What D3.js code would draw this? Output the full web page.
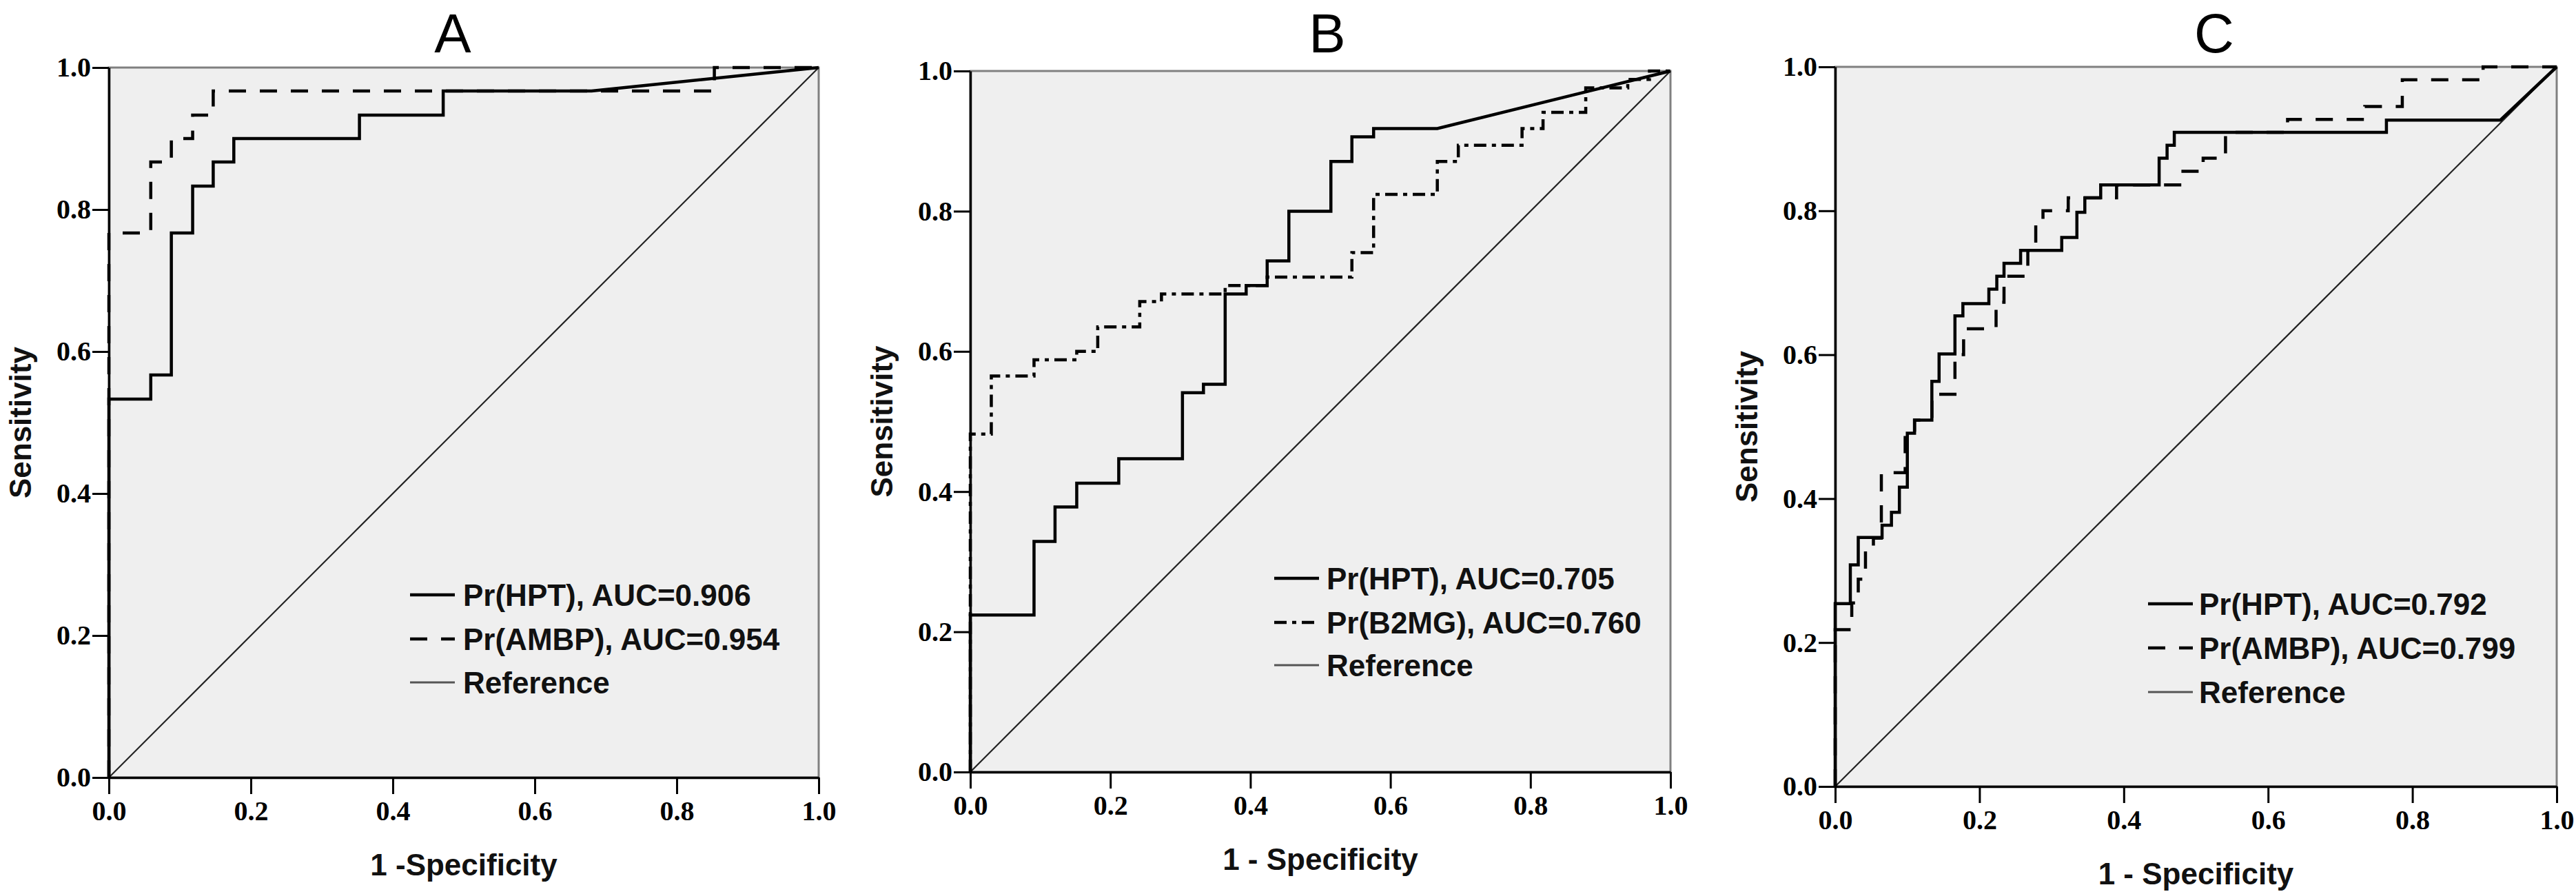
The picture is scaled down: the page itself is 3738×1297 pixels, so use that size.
<!DOCTYPE html>
<html>
<head>
<meta charset="utf-8">
<script src="https://cdn.jsdelivr.net/npm/d3@7"></script>
<style>
  body { margin: 0; background: #fff; }
  .tick text { font-family: "Liberation Serif", "Times New Roman", serif; font-weight: bold; }
</style>
</head>
<body>
<div id="my_chart"></div>
<script>
// tick values shared by every panel
var tickValues = [0, 0.2, 0.4, 0.6, 0.8, 1.0];

// panel A
var A_HPT = [[0,0],[0,0.533],[0.059,0.533],[0.059,0.567],[0.088,0.567],[0.088,0.767],[0.118,0.767],[0.118,0.833],
  [0.147,0.833],[0.147,0.867],[0.176,0.867],[0.176,0.9],[0.353,0.9],[0.353,0.933],[0.471,0.933],[0.471,0.967],
  [0.68,0.967],[1,1]];
var A_AMBP = [[0,0],[0,0.767],[0.059,0.767],[0.059,0.867],[0.088,0.867],[0.088,0.9],[0.118,0.9],[0.118,0.933],
  [0.147,0.933],[0.147,0.967],[0.853,0.967],[0.853,1],[1,1]];
var A_labels = ["Pr(HPT), AUC=0.906", "Pr(AMBP), AUC=0.954", "Reference"];

// panel B
var B_HPT = [[0,0],[0,0.224],[0.091,0.224],[0.091,0.329],[0.121,0.329],[0.121,0.378],[0.152,0.378],[0.152,0.412],
  [0.212,0.412],[0.212,0.447],[0.303,0.447],[0.303,0.541],[0.333,0.541],[0.333,0.553],[0.364,0.553],[0.364,0.682],
  [0.394,0.682],[0.394,0.694],[0.424,0.694],[0.424,0.729],[0.455,0.729],[0.455,0.8],[0.515,0.8],[0.515,0.871],
  [0.545,0.871],[0.545,0.906],[0.576,0.906],[0.576,0.918],[0.667,0.918],[1,1]];
var B_B2MG = [[0,0],[0,0.482],[0.03,0.482],[0.03,0.565],[0.091,0.565],[0.091,0.588],[0.152,0.588],[0.152,0.6],
  [0.182,0.6],[0.182,0.635],[0.242,0.635],[0.242,0.671],[0.273,0.671],[0.273,0.682],[0.364,0.682],[0.364,0.694],
  [0.424,0.694],[0.424,0.706],[0.545,0.706],[0.545,0.741],[0.576,0.741],[0.576,0.824],[0.667,0.824],[0.667,0.871],
  [0.697,0.871],[0.697,0.894],[0.788,0.894],[0.788,0.918],[0.818,0.918],[0.818,0.941],[0.879,0.941],[0.879,0.976],
  [0.939,0.976],[0.939,0.988],[0.97,0.988],[0.97,1],[1,1]];
var B_labels = ["Pr(HPT), AUC=0.705", "Pr(B2MG), AUC=0.760", "Reference"];

// panel C
var C_HPT = [[0,0],[0,0.254],[0.021,0.254],[0.021,0.308],[0.032,0.308],[0.032,0.346],[0.065,0.346],[0.065,0.363],
  [0.078,0.363],[0.078,0.381],[0.089,0.381],[0.089,0.416],[0.1,0.416],[0.1,0.491],[0.11,0.491],[0.11,0.509],
  [0.134,0.509],[0.134,0.563],[0.144,0.563],[0.144,0.601],[0.166,0.601],[0.166,0.654],[0.177,0.654],[0.177,0.671],
  [0.213,0.671],[0.213,0.691],[0.224,0.691],[0.224,0.709],[0.234,0.709],[0.234,0.727],[0.257,0.727],[0.257,0.745],
  [0.314,0.745],[0.314,0.763],[0.335,0.763],[0.335,0.798],[0.346,0.798],[0.346,0.818],[0.368,0.818],[0.368,0.836],
  [0.449,0.836],[0.449,0.873],[0.46,0.873],[0.46,0.891],[0.47,0.891],[0.47,0.909],[0.764,0.909],[0.764,0.926],
  [0.922,0.926],[1,1]];
var C_AMBP = [[0,0],[0,0.218],[0.023,0.218],[0.023,0.255],[0.032,0.255],[0.032,0.288],[0.042,0.288],[0.042,0.327],
  [0.053,0.327],[0.053,0.345],[0.064,0.345],[0.064,0.436],[0.097,0.436],[0.097,0.491],[0.11,0.491],[0.11,0.509],
  [0.134,0.509],[0.134,0.545],[0.166,0.545],[0.166,0.6],[0.178,0.6],[0.178,0.636],[0.223,0.636],[0.223,0.673],
  [0.234,0.673],[0.234,0.709],[0.267,0.709],[0.267,0.745],[0.278,0.745],[0.278,0.782],[0.288,0.782],[0.288,0.8],
  [0.323,0.8],[0.323,0.818],[0.39,0.818],[0.39,0.836],[0.482,0.836],[0.482,0.855],[0.51,0.855],[0.51,0.873],
  [0.541,0.873],[0.541,0.909],[0.627,0.909],[0.627,0.927],[0.734,0.927],[0.734,0.945],[0.786,0.945],[0.786,0.982],
  [0.898,0.982],[0.898,1],[1,1]];
var C_labels = ["Pr(HPT), AUC=0.792", "Pr(AMBP), AUC=0.799", "Reference"];

var refLine = [[0,0],[1,1]];

var W = 3738, H = 1297;
var sans = "'Liberation Sans', Arial, sans-serif";

var svg = d3.select("#my_chart").append("svg")
  .attr("width", W).attr("height", H);
svg.append("rect").attr("width", W).attr("height", H).attr("fill", "#fff");

var dashStyle = "25,20";
var dashDotStyle = "18,8,6,8";

var panels = [
  { title: "A", titleX: 657, left: 158, top: 98, w: 1030, h: 1030, xTitle: "1 -Specificity",
    curves: [A_HPT, A_AMBP], dashes: [null, dashStyle], labels: A_labels,
    legX: 437, legT: 514, legY: [765, 829, 892] },
  { title: "B", titleX: 1926, left: 1408, top: 103, w: 1016, h: 1017, xTitle: "1 - Specificity",
    curves: [B_HPT, B_B2MG], dashes: [null, dashDotStyle], labels: B_labels,
    legX: 441, legT: 517, legY: [736, 800, 862] },
  { title: "C", titleX: 3213, left: 2663, top: 97, w: 1047, h: 1044, xTitle: "1 - Specificity",
    curves: [C_HPT, C_AMBP], dashes: [null, dashStyle], labels: C_labels,
    legX: 454, legT: 528, legY: [779, 843, 907] }
];

panels.forEach(function(p) {
  var g = svg.append("g").attr("transform", "translate(" + p.left + "," + p.top + ")");
  var x = d3.scaleLinear().domain([0, 1]).range([0, p.w]);
  var y = d3.scaleLinear().domain([0, 1]).range([p.h, 0]);
  var line = d3.line().x(function(d) { return x(d[0]); }).y(function(d) { return y(d[1]); });

  // plot area
  g.append("rect").attr("width", p.w).attr("height", p.h)
    .attr("fill", "#efefef").attr("stroke", "#808080").attr("stroke-width", 3);

  // reference diagonal
  g.append("path").datum(refLine).attr("d", line)
    .attr("fill", "none").attr("stroke", "#222").attr("stroke-width", 2.2);

  // ROC curves
  p.curves.forEach(function(c, i) {
    g.append("path").datum(c).attr("d", line)
      .attr("fill", "none").attr("stroke", "#000").attr("stroke-width", 4.5)
      .attr("stroke-linejoin", "miter").attr("stroke-linecap", "butt")
      .attr("stroke-dasharray", p.dashes[i]);
  });

  // axes
  var fmt = d3.format(".1f");
  var yAxis = g.append("g")
    .call(d3.axisLeft(y).tickValues(tickValues).tickFormat(fmt).tickSize(24).tickSizeOuter(0).tickPadding(2));
  var xAxis = g.append("g").attr("transform", "translate(0," + p.h + ")")
    .call(d3.axisBottom(x).tickValues(tickValues).tickFormat(fmt).tickSize(24).tickSizeOuter(0).tickPadding(10));
  [xAxis, yAxis].forEach(function(a) {
    a.select(".domain").attr("stroke", "#000").attr("stroke-width", 3.5);
    a.selectAll(".tick line").attr("stroke", "#000").attr("stroke-width", 3);
    a.selectAll(".tick text").attr("fill", "#000").style("font-size", "40px");
  });

  // titles
  svg.append("text").attr("x", p.titleX).attr("y", 76).attr("text-anchor", "middle")
    .style("font-family", sans).style("font-size", "80px").attr("fill", "#000").text(p.title);
  svg.append("text").attr("x", p.left + p.w / 2).attr("y", p.top + p.h + 142).attr("text-anchor", "middle")
    .style("font-family", sans).style("font-weight", "bold").style("font-size", "44px").attr("fill", "#111")
    .text(p.xTitle);
  svg.append("text")
    .attr("transform", "translate(" + (p.left - 113) + "," + (p.top + p.h / 2) + ") rotate(-90)")
    .attr("text-anchor", "middle")
    .style("font-family", sans).style("font-weight", "bold").style("font-size", "44px").attr("fill", "#111")
    .text("Sensitivity");

  // legend
  var legStyles = [
    { dash: null, width: 4.5, color: "#000" },
    { dash: p.dashes[1], width: 4.5, color: "#000" },
    { dash: null, width: 3, color: "#555" }
  ];
  p.labels.forEach(function(lab, i) {
    var ly = p.legY[i];
    g.append("line").attr("x1", p.legX).attr("x2", p.legX + 65).attr("y1", ly).attr("y2", ly)
      .attr("stroke", legStyles[i].color).attr("stroke-width", legStyles[i].width)
      .attr("stroke-dasharray", legStyles[i].dash);
    g.append("text").attr("x", p.legT).attr("y", ly).attr("dy", "0.36em")
      .style("font-family", sans).style("font-weight", "bold").style("font-size", "44px")
      .attr("fill", "#111").text(lab);
  });
});
</script>
</body>
</html>
